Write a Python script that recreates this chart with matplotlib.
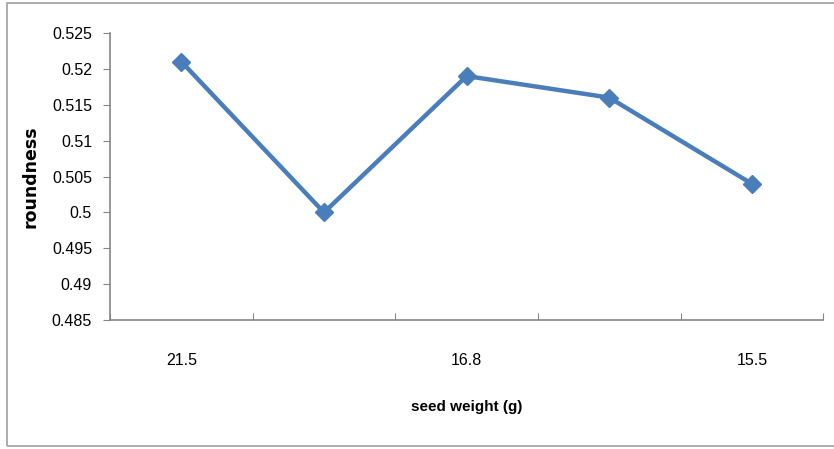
from matplotlib import pyplot as plt
from matplotlib.patches import Rectangle

# seed weight categories (only every other label is shown on the axis)
categories = ["21.5", "", "16.8", "", "15.5"]
roundness = [0.521, 0.500, 0.519, 0.516, 0.504]
y_ticks = [0.485, 0.49, 0.495, 0.5, 0.505, 0.51, 0.515, 0.52, 0.525]

plt.rcParams['font.family'] = ['Liberation Sans', 'DejaVu Sans']

fig = plt.figure(figsize=(8.34, 4.49), dpi=100)
ax = fig.add_axes([0.132, 0.287, 0.855, 0.6395])

x = list(range(1, len(roundness) + 1))
ax.plot(x, roundness, color='#4a7ebb', linewidth=3.2, marker='D', markersize=9,
        markeredgecolor='#4a7ebb', markerfacecolor='#4a7ebb', zorder=3)

ax.set_xlim(0.5, len(roundness) + 0.5)
ax.set_ylim(0.485, 0.525)
ax.set_yticks(y_ticks)
ax.set_yticklabels([f"{v:g}" for v in y_ticks], fontsize=11.5)

# category boundaries get the tick marks, labels sit under the category centres
ax.set_xticks([i + 0.5 for i in range(len(roundness) + 1)])
ax.set_xticklabels([])
ax.set_xticks(x, minor=True)
ax.set_xticklabels(categories, minor=True, fontsize=11.5)
ax.tick_params(axis='x', which='minor', length=0, pad=24)
ax.tick_params(axis='x', which='major', length=5, color='#868686', direction='in')
ax.tick_params(axis='y', length=5, color='#868686', pad=8)

for side in ['top', 'right']:
    ax.spines[side].set_visible(False)
for side in ['left', 'bottom']:
    ax.spines[side].set_color('#868686')
    ax.spines[side].set_linewidth(1.2)

ax.set_xlabel("seed weight (g)", fontsize=11, fontweight='bold', labelpad=23)
ax.set_ylabel("roundness", fontsize=12.5, fontweight='bold',
              family=['DejaVu Sans'], labelpad=9)

# chart border
fig.patches.append(Rectangle((7 / 834, 3 / 449), 1.0, 443 / 449, transform=fig.transFigure,
                             fill=False, edgecolor='#a0a0a0', linewidth=1.2))

fig.savefig("out.png", dpi=100)
